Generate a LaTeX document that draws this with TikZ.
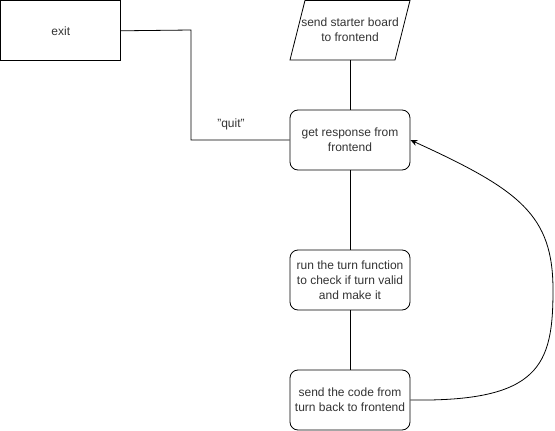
\documentclass[tikz,border=0pt]{standalone}
\usepackage{fontspec}
\setmainfont{Liberation Sans}
\usetikzlibrary{arrows.meta}
\begin{document}
\begin{tikzpicture}[x=1pt,y=-1pt,
  every node/.style={font=\fontsize{12}{15}\selectfont, text=black!80},
  plainbox/.style={draw, line width=0.8pt, minimum width=120pt, minimum height=60pt, inner sep=0pt, align=center},
  roundbox/.style={plainbox, rounded corners=8pt},
  link/.style={draw, line width=0.8pt},
]
\useasboundingbox (0,0) rectangle (555,431);
\node[plainbox, anchor=north west] (exit) at (0.4,0.4) {exit};
\node[minimum width=120pt, minimum height=60pt, inner sep=0pt, align=center] (start) at (350,30) {send starter board\\to frontend};
\draw[line width=0.8pt] (290,60) -- (305,0.4) -- (410,0.4) -- (395,60) -- cycle;
\node[roundbox] (resp) at (350,140) {get response from\\frontend};
\node[roundbox] (turn) at (350,280) {run the turn function\\to check if turn valid\\and make it};
\node[roundbox] (send) at (350,400) {send the code from\\turn back to frontend};
\coordinate (startbot) at (350,60);
\draw[link] (startbot) -- (resp.north);
\draw[link] (resp.south) -- (turn.north);
\draw[link] (turn.south) -- (send.north);
\draw[link] (exit.east) -- (191,30) -- (191,140) -- (resp.west);
\node (quit) at (231,124) {\symbol{34}quit\symbol{34}};
\draw[link, -{Stealth[length=7pt,width=6pt]}] (send.east) .. controls (540,402) and (553,365) .. (553,290) .. controls (553,215) and (520,190) .. (resp.east);
\end{tikzpicture}
\end{document}
